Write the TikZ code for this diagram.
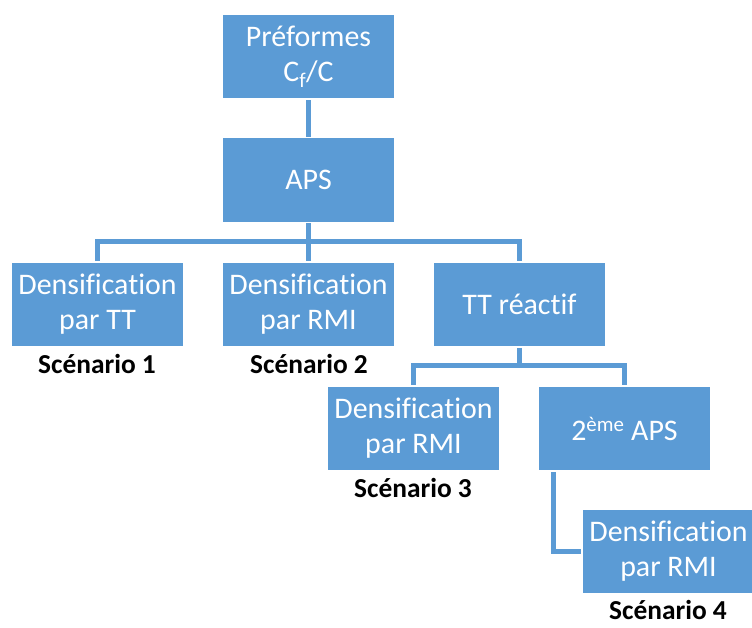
\documentclass[tikz,border=0pt]{standalone}
\usepackage{fontspec}
\setmainfont[Ligatures=CommonOff]{Carlito}
\usetikzlibrary{calc,backgrounds}
\definecolor{offblue}{HTML}{5B9BD5}
\begin{document}
\begin{tikzpicture}[x=1bp,y=-1bp,
  box/.style={rectangle,fill=offblue,draw=white,line width=1.5bp,
    minimum width=173bp,minimum height=85bp,inner sep=0pt,align=center,
    text=white,font=\fontsize{30}{35}\selectfont},
  scen/.style={inner sep=0pt,text depth=0pt,anchor=base,font=\fontsize{27.5}{30}\selectfont\bfseries},
  conn/.style={draw=offblue,line width=4.8bp}]
\useasboundingbox (0,0) rectangle (752,628);
\node[box] (pref) at (308.5,56.5) {Préformes\\C\textsubscript{f}/C};
\node[box] (aps) at (308.5,180) {APS};
\node[box] (d1) at (97.5,304.5) {Densification\\par TT};
\node[box] (d2) at (308.5,304.5) {Densification\\par RMI};
\node[box] (tt) at (519.5,304.5) {TT réactif};
\node[box] (d3) at (413.5,428.5) {Densification\\par RMI};
\node[box] (aps2) at (624.5,428.5) {2\textsuperscript{ème} APS};
\node[box] (d4) at (668.5,551.5) {Densification\\par RMI};
\node[scen] (s1) at (97,373.5) {Scénario 1};
\node[scen] (s2) at (309,373.5) {Scénario 2};
\node[scen] (s3) at (413,497.5) {Scénario 3};
\node[scen] (s4) at (668,619) {Scénario 4};
\begin{scope}[on background layer]
\draw[conn] (pref.south) -- (aps.north);
\draw[conn] (aps.south) -- (d2.north);
\draw[conn] (d1.north) -- ++(0,-19.5) -| (tt.north);
\draw[conn] (tt.south) -- ++(0,19.5);
\draw[conn] (d3.north) -- ++(0,-19.5) -| (aps2.north);
\draw[conn] ($(aps2.south west)+(16.5,0)$) |- (d4.west);
\end{scope}
\end{tikzpicture}
\end{document}
